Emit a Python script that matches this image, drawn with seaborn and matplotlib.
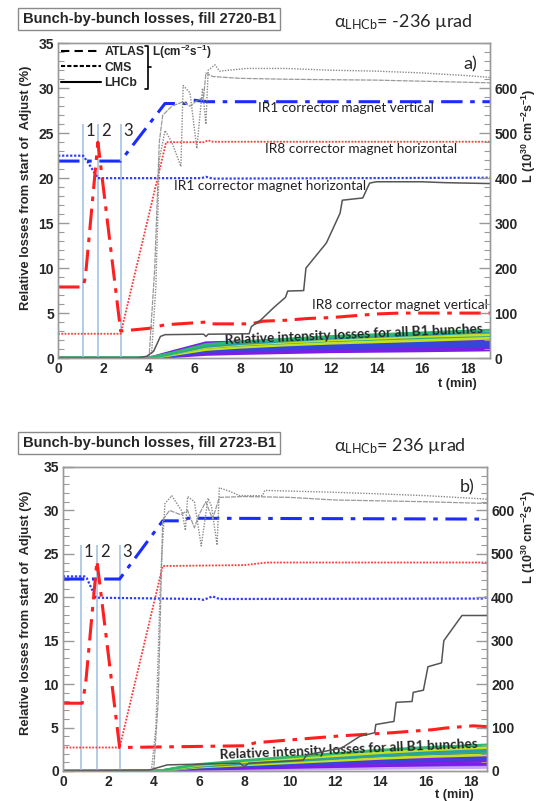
import numpy as np
import pandas as pd
import seaborn as sns
import matplotlib.pyplot as plt
from matplotlib.lines import Line2D
from matplotlib.ticker import MultipleLocator

# ---------------- panel a) fill 2720-B1 ----------------
a_steps = [1.1, 1.75, 2.75]
a_ir1v_t = [0, 2.75, 4.7, 5.6, 5.85, 6.6, 19]
a_ir1v = [21.9, 21.9, 28.3, 28.3, 28.7, 28.5, 28.5]
a_ir1h_t = [0, 1.1, 1.3, 1.75, 6.3, 6.5, 6.8, 19]
a_ir1h = [22.5, 22.5, 21.8, 20.0, 20.0, 20.15, 19.95, 20.05]
a_ir8v_t = [0, 1.1, 1.2, 1.75, 2.75, 4.0, 4.7, 6.5, 6.7, 8.5, 9.0, 10, 11, 12, 13, 14, 15, 19]
a_ir8v = [7.9, 7.9, 9.0, 24.0, 3.0, 3.3, 3.7, 4.0, 3.8, 3.8, 4.1, 4.2, 4.4, 4.5, 4.7, 4.9, 5.0, 5.0]
a_ir8h_t = [0, 2.75, 4.75, 6.4, 6.6, 6.8, 19]
a_ir8h = [2.7, 2.7, 24.0, 24.0, 24.2, 24.05, 24.05]

a_atlas_t = [0, 4.0, 4.25, 4.45, 4.6, 5.0, 5.5, 5.8, 6.1, 6.4, 6.5, 6.8, 8, 10, 14, 19]
a_atlas = [0, 0, 200, 480, 540, 560, 570, 560, 572, 580, 634, 626, 622, 620, 618, 612]
a_cms_t = [0, 4.1, 4.3, 4.45, 4.7, 5.0, 5.4, 5.5, 5.8, 6.1, 6.35, 6.5, 6.6, 6.9,
           7.1, 8.3, 10, 12, 14, 16, 18, 19]
a_cms = [0, 0, 160, 440, 506, 480, 426, 606, 590, 466, 600, 520, 640, 652,
         638, 644, 644, 640, 638, 634, 628, 624]
a_lhcb_t = [0, 3.5, 3.9, 4.2, 4.5, 4.7, 6.4, 6.5, 6.6, 8.4, 8.5, 8.9, 9.5, 10.0, 10.1,
            10.8, 10.9, 11.8, 12.4, 12.5, 13.4, 13.7, 14, 16, 17, 19]
a_lhcb = [0, 0, 4, 15, 48, 52, 53, 48, 53, 54, 70, 84, 113, 135, 149,
          150, 200, 256, 322, 351, 356, 389, 392, 392, 390, 388]

a_bunch_t = [0, 4.0, 5.0, 6.5, 8, 10, 12, 14, 16, 19]
a_bunches = {
    "p1": [0, 0, 0.7, 1.7, 1.8, 1.9, 2.0, 2.1, 2.2, 2.3],
    "p2": [0, 0, 0.5, 1.4, 1.5, 1.6, 1.7, 1.75, 1.8, 1.9],
    "p3": [0, 0, 0.3, 0.9, 1.0, 1.1, 1.15, 1.2, 1.25, 1.3],
    "p4": [0, 0, 0.2, 0.6, 0.7, 0.8, 0.9, 1.0, 1.05, 1.1],
    "p5": [0, 0, 0.15, 0.4, 0.5, 0.6, 0.7, 0.75, 0.8, 0.9],
    "b1": [0, 0, 0.4, 1.1, 1.25, 1.4, 1.5, 1.6, 1.7, 1.8],
    "b2": [0, 0, 0.3, 0.85, 1.0, 1.2, 1.3, 1.4, 1.5, 1.6],
    "b3": [0, 0, 0.25, 0.7, 0.85, 1.0, 1.1, 1.2, 1.3, 1.4],
    "g2": [0, 0, 0.4, 1.0, 1.3, 1.6, 1.8, 2.0, 2.2, 2.4],
    "y2": [0, 0, 0.35, 0.95, 1.2, 1.45, 1.65, 1.8, 1.95, 2.2],
    "t2": [0, 0, 0.45, 1.2, 1.45, 1.7, 1.95, 2.15, 2.35, 2.55],
    "y1": [0, 0, 0.45, 1.2, 1.5, 1.75, 2.0, 2.2, 2.4, 2.6],
    "t1": [0, 0, 0.5, 1.3, 1.6, 1.9, 2.2, 2.4, 2.6, 2.9],
    "g1": [0, 0, 0.55, 1.5, 1.8, 2.1, 2.4, 2.6, 2.8, 3.1],
}

# ---------------- panel b) fill 2723-B1 ----------------
b_steps = [0.8, 1.5, 2.5]
b_ir1v_t = [0, 2.5, 4.4, 5.3, 5.5, 18.7]
b_ir1v = [22.1, 22.1, 28.8, 28.8, 29.1, 29.0]
b_ir1h_t = [0, 0.95, 1.05, 1.45, 6.0, 6.2, 6.6, 6.9, 18.5, 18.7]
b_ir1h = [22.4, 22.4, 22.2, 19.95, 19.8, 19.7, 20.1, 19.8, 19.85, 20.0]
b_ir8v_t = [0, 0.85, 1.0, 1.5, 2.5, 8.0, 8.5, 10.6, 12.3, 14.5, 16.3, 16.9, 18.1, 18.7]
b_ir8v = [7.8, 7.8, 10.0, 24.2, 2.7, 2.9, 3.25, 3.7, 4.05, 4.4, 4.75, 4.95, 5.2, 5.1]
b_ir8h_t = [0, 2.5, 4.4, 8.0, 9.0, 18.7]
b_ir8h = [2.7, 2.7, 23.6, 23.7, 24.0, 24.0]

b_atlas_t = [0, 4.0, 4.2, 4.4, 4.7, 5.2, 5.5, 5.8, 6.0, 6.3, 6.6, 6.9, 8, 10, 12, 14, 16, 18.7]
b_atlas = [0, 0, 160, 578, 600, 590, 600, 560, 590, 620, 580, 630, 632, 630, 624, 622, 620, 616]
b_cms_t = [0, 3.9, 4.1, 4.3, 4.5, 4.8, 5.25, 5.4, 5.5, 5.8, 6.1, 6.4, 6.55, 6.8, 6.9,
           7.35, 7.8, 8.8, 8.9, 11.8, 14, 16, 18.7]
b_cms = [0, 0, 100, 440, 616, 634, 598, 554, 632, 620, 518, 628, 610, 520, 652,
         644, 634, 634, 646, 642, 638, 634, 626]
b_lhcb_t = [0, 3.8, 4.6, 7.8, 8.0, 8.2, 10.6, 10.75, 12.3, 13.1, 13.75, 13.8, 14.6, 14.7,
            15.4, 15.45, 15.9, 16.1, 16.7, 16.8, 17.6, 18.7]
b_lhcb = [0, 2, 14, 18, 10, 18, 25, 37, 53, 80, 88, 107, 114, 158,
          160, 181, 186, 240, 249, 300, 358, 358]

b_bunch_t = [0, 4.3, 5.0, 6.0, 8, 10, 12, 14, 16, 18.7]
b_bunches = {
    "l1": [0, 0, 0.05, 0.1, 0.15, 0.2, 0.25, 0.3, 0.35, 0.4],
    "p3": [0, 0, 0.1, 0.2, 0.3, 0.4, 0.5, 0.6, 0.7, 0.8],
    "p2": [0, 0, 0.15, 0.3, 0.45, 0.6, 0.75, 0.9, 1.0, 1.15],
    "p1": [0, 0, 0.2, 0.4, 0.6, 0.8, 1.0, 1.2, 1.4, 1.6],
    "b2": [0, 0, 0.2, 0.35, 0.5, 0.7, 0.9, 1.05, 1.2, 1.4],
    "b1": [0, 0, 0.25, 0.5, 0.75, 1.0, 1.25, 1.5, 1.7, 1.9],
    "y2": [0, 0, 0.22, 0.45, 0.7, 0.95, 1.2, 1.45, 1.65, 1.85],
    "g2": [0, 0, 0.25, 0.55, 0.85, 1.15, 1.45, 1.75, 2.0, 2.2],
    "t2": [0, 0, 0.28, 0.58, 0.9, 1.2, 1.5, 1.8, 2.1, 2.35],
    "t1": [0, 0, 0.3, 0.6, 0.95, 1.3, 1.6, 1.9, 2.2, 2.5],
    "y1": [0, 0, 0.3, 0.65, 1.05, 1.4, 1.75, 2.1, 2.4, 2.7],
    "g1": [0, 0, 0.35, 0.75, 1.2, 1.6, 2.0, 2.4, 2.7, 3.0],
}

bunch_colors = {"g": "#2fb86a", "t": "#2a9fa8", "y": "#c4e11e", "b": "#3646d8",
                "p": "#7b1fe6", "l": "#c9a6f5"}

panels = [
    dict(ax=[0.108, 0.553, 0.803, 0.393], xmax=19,
         title="Bunch-by-bunch losses, fill 2720-B1", alpha="-236", ty=0.976,
         tag="a)", steps=a_steps,
         ir1v=(a_ir1v_t, a_ir1v), ir1h=(a_ir1h_t, a_ir1h),
         ir8v=(a_ir8v_t, a_ir8v), ir8h=(a_ir8h_t, a_ir8h),
         atlas=(a_atlas_t, a_atlas), cms=(a_cms_t, a_cms), lhcb=(a_lhcb_t, a_lhcb),
         bt=a_bunch_t, bunches=a_bunches, rel=(13.0, 2.6), ylab_y=0.765, rlab_y=0.83,
         tmin_y=-0.082),
    dict(ax=[0.117, 0.0375, 0.788, 0.3795], xmax=18.7,
         title="Bunch-by-bunch losses, fill 2723-B1", alpha="236", ty=0.447,
         tag="b)", steps=b_steps,
         ir1v=(b_ir1v_t, b_ir1v), ir1h=(b_ir1h_t, b_ir1h),
         ir8v=(b_ir8v_t, b_ir8v), ir8h=(b_ir8h_t, b_ir8h),
         atlas=(b_atlas_t, b_atlas), cms=(b_cms_t, b_cms), lhcb=(b_lhcb_t, b_lhcb),
         bt=b_bunch_t, bunches=b_bunches, rel=(12.6, 2.5), ylab_y=0.235, rlab_y=0.33,
         tmin_y=-0.08),
]

sns.set_theme(style="white")
plt.rcParams["font.family"] = ["Liberation Sans", "DejaVu Sans"]
plt.rcParams["mathtext.default"] = "regular"
ann = ["Lato", "DejaVu Sans"]
spine_c = "#9a9a9a"

fig = plt.figure(figsize=(5.38, 8.01), dpi=100)

for p in panels:
    ax = fig.add_axes(p["ax"])
    ax2 = ax.twinx()

    # bunch-by-bunch losses fan
    rows = []
    for name, vals in p["bunches"].items():
        for t, v in zip(p["bt"], vals):
            rows.append((name, t, v))
    df = pd.DataFrame(rows, columns=["bunch", "t", "loss"])
    env = df.groupby("t")["loss"].agg(["min", "max"])
    ax.fill_between(env.index, env["min"], env["max"], color="#6a28e0", lw=0, alpha=0.8)
    pal = {n: bunch_colors[n[0]] for n in p["bunches"]}
    sns.lineplot(data=df, x="t", y="loss", hue="bunch", palette=pal, estimator=None,
                 legend=False, lw=2.0, ax=ax)

    # step markers
    for s in p["steps"]:
        ax.vlines(s, 0, 26, color="#9dbde3", lw=1.1)
    for s, lab in zip(p["steps"], ["1", "2", "3"]):
        ax.text(s + 0.13, 25.2, lab, fontsize=12, family=ann, ha="left", va="center")

    # corrector magnets
    sns.lineplot(x=p["ir8h"][0], y=p["ir8h"][1], color="#ff3a3a", lw=1.3,
                 linestyle=(0, (1, 0.8)), estimator=None, ax=ax)
    sns.lineplot(x=p["ir1h"][0], y=p["ir1h"][1], color="#2f3dff", lw=1.6,
                 linestyle=(0, (1, 0.8)), estimator=None, ax=ax)
    sns.lineplot(x=p["ir1v"][0], y=p["ir1v"][1], color="#1a2cff", lw=2.2,
                 linestyle=(0, (7, 2.5, 1.5, 2.5)), estimator=None, ax=ax)
    sns.lineplot(x=p["ir8v"][0], y=p["ir8v"][1], color="#ff1f1f", lw=2.2,
                 linestyle=(0, (7, 2.5, 1.5, 2.5)), estimator=None, ax=ax)

    # luminosity on right axis
    sns.lineplot(x=p["atlas"][0], y=p["atlas"][1], color="#9a9a9a", lw=0.9,
                 linestyle=(0, (4, 0.8)), estimator=None, ax=ax2)
    sns.lineplot(x=p["cms"][0], y=p["cms"][1], color="#8a8a8a", lw=1.0,
                 linestyle=(0, (1, 1)), estimator=None, ax=ax2)
    sns.lineplot(x=p["lhcb"][0], y=p["lhcb"][1], color="#555555", lw=1.1,
                 estimator=None, ax=ax2)

    ax.set_xlim(0, p["xmax"])
    ax.set_ylim(0, 35)
    ax2.set_ylim(0, 700)
    ax.set_xlabel("")
    ax.set_ylabel("")
    ax2.set_ylabel("")
    ax.xaxis.set_major_locator(MultipleLocator(2))
    ax.xaxis.set_minor_locator(MultipleLocator(0.5))
    ax.yaxis.set_major_locator(MultipleLocator(5))
    ax.yaxis.set_minor_locator(MultipleLocator(1))
    ax2.set_yticks(range(0, 700, 100))
    ax2.yaxis.set_minor_locator(MultipleLocator(20))
    for a in (ax, ax2):
        a.tick_params(which="major", direction="in", length=8, width=1, color=spine_c,
                      labelsize=10, pad=3)
        a.tick_params(which="minor", direction="in", length=4.5, width=0.8, color=spine_c)
        for sp in a.spines.values():
            sp.set_color(spine_c)
            sp.set_linewidth(1.0)
        for lab in a.get_xticklabels() + a.get_yticklabels():
            lab.set_fontweight("bold")
    ax.tick_params(axis="y", which="both", right=False)
    ax.tick_params(axis="x", which="minor", length=3)

    # texts
    ax.text(0.97, p["tmin_y"], "t (min)", transform=ax.transAxes, ha="right",
            va="center", fontsize=9.2, fontweight="bold")
    ax.text(p["xmax"] - 0.55, 32.6, p["tag"], fontsize=13, family=ann, ha="right",
            va="center")
    ax.text(p["rel"][0], p["rel"][1], "Relative intensity losses for all B1 bunches",
            fontsize=9.8, family=ann, fontweight="bold", ha="center", va="center",
            rotation=2.5)
    fig.text(0.048, p["ylab_y"], "Relative losses from start of  Adjust (%)",
             rotation=90, ha="center", va="center", fontsize=9.4, fontweight="bold")
    fig.text(0.983, p["rlab_y"], "L (10$^{30}$ cm$^{-2}$s$^{-1}$)", rotation=90,
             ha="center", va="center", fontsize=9, fontweight="bold")
    fig.text(0.042, p["ty"], p["title"], fontsize=10.6, fontweight="bold", va="center",
             bbox=dict(boxstyle="square,pad=0.28", fc="white", ec="#8a8a8a", lw=1))
    fig.text(0.62, p["ty"] - 0.004, "α$_{LHCb}$= " + p["alpha"] + " µrad",
             fontsize=13, family=ann, va="center")

    if p["tag"] == "a)":
        ax.text(8.8, 27.75, "IR1 corrector magnet vertical", fontsize=9.8, family=ann,
                va="center", color="#222222")
        ax.text(9.1, 23.2, "IR8 corrector magnet horizontal", fontsize=9.8, family=ann,
                va="center", color="#222222")
        ax.text(5.1, 19.1, "IR1 corrector magnet horizontal", fontsize=9.8, family=ann,
                va="center", color="#222222")
        ax.text(18.9, 5.9, "IR8 corrector magnet vertical", fontsize=9.8, family=ann,
                va="center", ha="right", color="#222222")
        handles = [Line2D([], [], color="black", lw=1.5, linestyle=(0, (4, 2.5))),
                   Line2D([], [], color="black", lw=1.5, linestyle=(0, (2, 1))),
                   Line2D([], [], color="black", lw=1.5)]
        ax.legend(handles, ["ATLAS", "CMS", "LHCb"], loc="upper left",
                  bbox_to_anchor=(0.005, 0.995), frameon=False, handlelength=3.2,
                  handletextpad=0.3, labelspacing=0.3, borderpad=0.1, borderaxespad=0,
                  prop=dict(weight="bold", size=8.8))
        ax.plot([0.2, 0.208, 0.208, 0.2], [0.99, 0.99, 0.855, 0.855], color="black",
                lw=1.2, transform=ax.transAxes, clip_on=False)
        ax.plot([0.208, 0.214], [0.925, 0.925], color="black", lw=1.2,
                transform=ax.transAxes, clip_on=False)
        ax.text(0.218, 0.972, "L(cm$^{-2}$s$^{-1}$)", transform=ax.transAxes,
                fontsize=8.5, fontweight="bold", va="center")

fig.savefig("out.png", dpi=100)
